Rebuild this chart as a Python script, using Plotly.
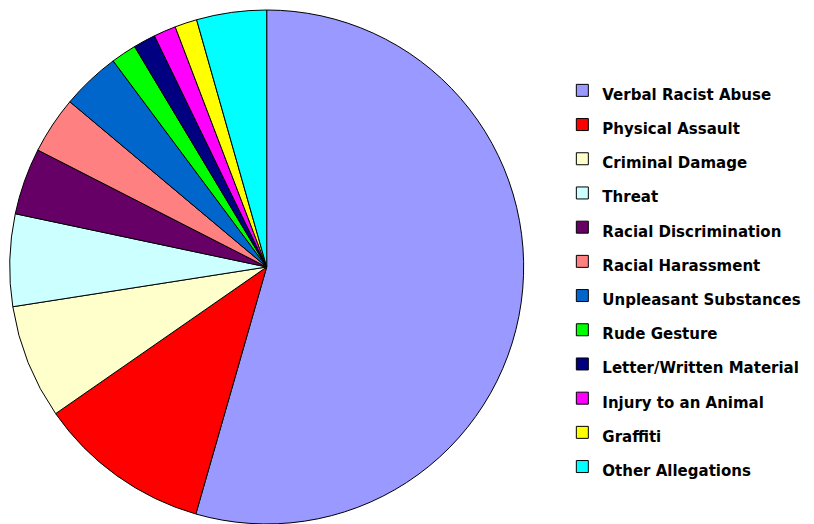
import plotly.graph_objects as go

# Share of allegations (%)
categories = ["Verbal Racist Abuse", "Physical Assault", "Criminal Damage", "Threat",
              "Racial Discrimination", "Racial Harassment", "Unpleasant Substances",
              "Rude Gesture", "Letter/Written Material", "Injury to an Animal",
              "Graffiti", "Other Allegations"]
shares = [54.5, 10.9, 7.2, 5.8, 4.2, 3.6, 3.7, 1.6, 1.4, 1.4, 1.4, 4.4]
colors = ["#9999FF", "#FF0000", "#FFFFCC", "#CCFFFF", "#660066", "#FF8080",
          "#0066CC", "#00FF00", "#000080", "#FF00FF", "#FFFF00", "#00FFFF"]

# legend text is drawn smaller than the legend font so the rows get spaced out
legend_labels = ['<span style="font-size:15px">' + c + '</span>' for c in categories]

fig = go.Figure()
fig.add_trace(go.Pie(labels=legend_labels,
                     values=shares,
                     sort=False,
                     direction="clockwise",
                     rotation=0,
                     textinfo="none",
                     hoverinfo="percent",
                     marker=dict(colors=colors, line=dict(color="black", width=1)),
                     # page body has an 8px margin, so the pie is nudged up/left
                     domain=dict(x=[0.0021, 0.6335], y=[0.0153, 0.9962])))

fig.update_layout(width=814, height=524,
                  margin=dict(l=0, r=0, t=0, b=0, autoexpand=False),
                  paper_bgcolor="white",
                  font=dict(family="Comic Sans MS, DejaVu Sans", color="black"),
                  legend=dict(x=0.681, y=0.885, xanchor="left", yanchor="top",
                              font=dict(size=24, family="DejaVu Sans", weight="bold"),
                              bgcolor="rgba(0,0,0,0)"))

fig.write_html("out.html")
